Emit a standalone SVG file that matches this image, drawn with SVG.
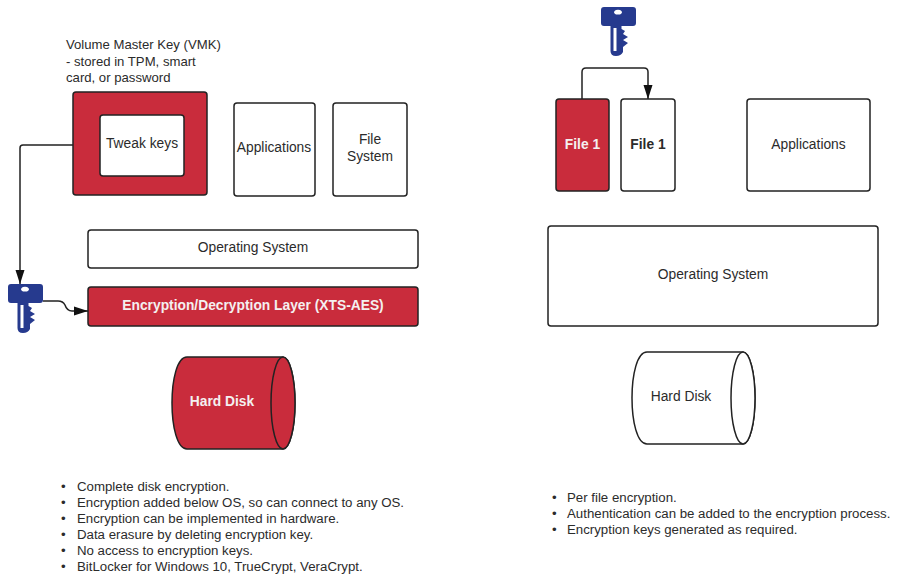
<svg xmlns="http://www.w3.org/2000/svg" width="915" height="586" viewBox="0 0 915 586">
<style>
text{font-family:"Liberation Sans",Arial,sans-serif;font-size:13.8px;fill:#2b2b2b}
.c{text-anchor:middle}
.w{fill:#fff;stroke:#222;stroke-width:1.5}
.r{fill:#c92c3c;stroke:#222;stroke-width:1.5}
.t{fill:#f4f0f0;font-weight:bold}
text.b{font-size:13.25px}
text.v{font-size:13.15px}
.k{fill:#263a8e}
.l{fill:none;stroke:#222;stroke-width:1.5}
</style>
<defs>
<marker id="a" markerWidth="15" markerHeight="11" refX="14" refY="5" orient="auto" markerUnits="userSpaceOnUse"><path d="M0 0.500L14 5L0 9.500Z" fill="#111"/></marker>
<g id="key">
<path class="k" fill-rule="evenodd" d="M3 0H32Q35 0 35 3V16Q35 19 32 19H20.500V22L24 24L22 27L27 30L22 33L27 36L22 40V45Q20 49 15 49Q9.500 49 9.500 44V19H3Q0 19 0 16V3Q0 0 3 0ZM17 2.800A4 2.400 0 1 0 17.010 2.800ZM12.500 21V44H15.500V21Z"/>
</g>
</defs>
<g id="connectors">
<path class="l" d="M100 145H23Q20 145 20 148V284" marker-end="url(#a)"/>
<path class="l" d="M43 301H58Q63 301 65 305Q67 311 72 311H88" marker-end="url(#a)"/>
<path class="l" d="M582 99V72Q582 68 586 68H644Q648 68 648 72V99" marker-end="url(#a)"/>
</g>
<g id="vmk-label"><text class="v" x="66" y="49">Volume Master Key (VMK)</text><text class="v" x="66" y="65.500">- stored in TPM, smart</text><text class="v" x="66" y="82">card, or password</text></g>
<g id="vmk"><rect class="r" x="73" y="92" width="134" height="103" rx="3"/></g>
<g id="tweak"><rect class="w" x="100" y="115" width="84" height="61" rx="3"/><text class="c" x="142" y="148">Tweak keys</text></g>
<g id="apps-l"><rect class="w" x="234" y="103" width="81" height="93" rx="3"/><text class="c" x="274" y="152">Applications</text></g>
<g id="fs-l"><rect class="w" x="333" y="103" width="74" height="93" rx="3"/><text class="c" x="370" y="144">File</text><text class="c" x="370" y="161">System</text></g>
<g id="os-l"><rect class="w" x="88" y="230" width="330" height="38" rx="3"/><text class="c" x="253" y="252">Operating System</text></g>
<g id="enc"><rect class="r" x="88" y="287" width="330" height="39" rx="3"/><text class="c t" x="253" y="309.500">Encryption/Decryption Layer (XTS-AES)</text></g>
<g id="key-l"><use href="#key" x="8" y="284"/></g>
<g id="disk-l"><path class="r" d="M187 357H283A12 46 0 0 1 283 449H187C167 449 167 357 187 357Z"/><ellipse class="r" cx="283" cy="403" rx="12" ry="46"/><text class="c t" x="222" y="405.500">Hard Disk</text></g>
<g id="list-l">
<text class="b" x="61" y="491">•</text><text class="b" x="77" y="491">Complete disk encryption.</text>
<text class="b" x="61" y="507">•</text><text class="b" x="77" y="507">Encryption added below OS, so can connect to any OS.</text>
<text class="b" x="61" y="523">•</text><text class="b" x="77" y="523">Encryption can be implemented in hardware.</text>
<text class="b" x="61" y="539">•</text><text class="b" x="77" y="539">Data erasure by deleting encryption key.</text>
<text class="b" x="61" y="555">•</text><text class="b" x="77" y="555">No access to encryption keys.</text>
<text class="b" x="61" y="571">•</text><text class="b" x="77" y="571">BitLocker for Windows 10, TrueCrypt, VeraCrypt.</text>
</g>
<g id="key-r"><use href="#key" x="601" y="7"/></g>
<g id="file-red"><rect class="r" x="556" y="99" width="53" height="92" rx="3"/><text class="c t" x="582.500" y="148.500">File 1</text></g>
<g id="file-white"><rect class="w" x="621" y="99" width="54" height="92" rx="3"/><text class="c" x="648" y="148.500" style="font-weight:bold">File 1</text></g>
<g id="apps-r"><rect class="w" x="747" y="99" width="123" height="92" rx="3"/><text class="c" x="808.500" y="148.500">Applications</text></g>
<g id="os-r"><rect class="w" x="548" y="226" width="330" height="100" rx="3"/><text class="c" x="713" y="279">Operating System</text></g>
<g id="disk-r"><path class="w" d="M647 352H743A12 46 0 0 1 743 444H647C627 444 627 352 647 352Z"/><ellipse class="w" cx="743" cy="398" rx="12" ry="46"/><text class="c" x="681" y="401">Hard Disk</text></g>
<g id="list-r">
<text class="b" x="552" y="502">•</text><text class="b" x="567" y="502">Per file encryption.</text>
<text class="b" x="552" y="518">•</text><text class="b" x="567" y="518">Authentication can be added to the encryption process.</text>
<text class="b" x="552" y="534">•</text><text class="b" x="567" y="534">Encryption keys generated as required.</text>
</g>
</svg>
